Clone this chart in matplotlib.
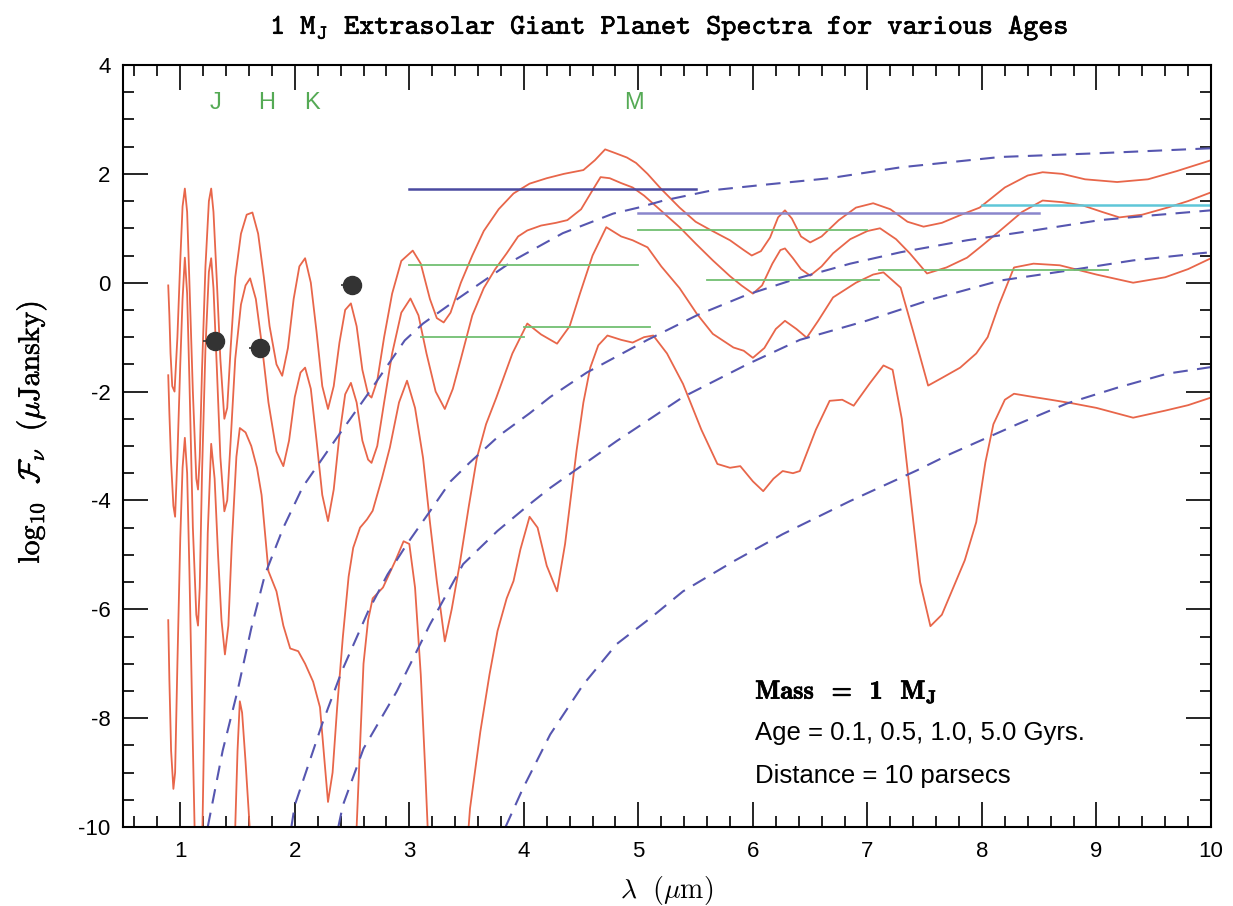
import os
import numpy as np
import matplotlib as mpl
mpl.use('Agg')
from matplotlib import pyplot as plt
from matplotlib import patheffects
from matplotlib.ticker import MultipleLocator
from matplotlib.font_manager import FontProperties

plt.rcParams['font.family'] = 'Liberation Sans'
plt.rcParams['mathtext.fontset'] = 'cm'
plt.rcParams['axes.unicode_minus'] = False

nan = np.nan

# spectra, 0.1 / 0.5 / 1.0 / 5.0 Gyr  (wavelength um, log10 flux)
age01_x = [0.895, 0.905, 0.915, 0.93, 0.95, 0.975, 1.0, 1.02, 1.04, 1.06, 1.08, 1.11, 1.14, 1.155, 1.17, 1.19,
           1.22, 1.25, 1.27, 1.29, 1.32, 1.35, 1.385, 1.41, 1.44, 1.48, 1.53, 1.58, 1.63, 1.68, 1.73, 1.78,
           1.84, 1.89, 1.94, 1.99, 2.04, 2.09, 2.14, 2.19, 2.24, 2.29, 2.34, 2.39, 2.44, 2.49, 2.54, 2.59,
           2.64, 2.67, 2.72, 2.78, 2.85, 2.93, 3.03, 3.10, 3.18, 3.24, 3.30, 3.36, 3.45, 3.55, 3.65, 3.78,
           3.91, 4.05, 4.2, 4.35, 4.52, 4.62, 4.71, 4.8, 4.9, 4.98, 5.08, 5.2, 5.36, 5.5, 5.62, 5.80,
           5.92, 5.99, 6.07, 6.15, 6.22, 6.28, 6.34, 6.42, 6.5, 6.6, 6.75, 6.9, 7.05, 7.2, 7.35, 7.49,
           7.65, 7.82, 7.98, 8.2, 8.4, 8.53, 8.7, 8.9, 9.18, 9.45, 9.7, 10.0]
age01_y = [-0.05, -0.6, -1.3, -1.9, -2.0, -1.0, 0.4, 1.4, 1.73, 1.3, 0.0, -2.0, -3.6, -3.8, -3.2, -1.6,
           0.3, 1.5, 1.73, 1.3, 0.0, -1.4, -2.5, -2.3, -1.2, 0.1, 0.9, 1.25, 1.29, 0.9, 0.1, -0.8,
           -1.5, -1.71, -1.2, -0.3, 0.3, 0.45, 0.0, -0.9, -1.9, -2.32, -1.9, -1.1, -0.5, -0.38, -0.8, -1.6,
           -2.05, -2.11, -1.8, -1.0, -0.2, 0.4, 0.59, 0.35, -0.3, -0.65, -0.73, -0.55, 0.0, 0.5, 0.95, 1.35,
           1.64, 1.82, 1.92, 2.0, 2.07, 2.25, 2.45, 2.38, 2.3, 2.2, 2.0, 1.72, 1.38, 1.12, 0.98, 0.78,
           0.6, 0.50, 0.58, 0.83, 1.2, 1.33, 1.18, 0.85, 0.74, 0.85, 1.15, 1.38, 1.46, 1.35, 1.12, 1.03,
           1.1, 1.25, 1.38, 1.75, 1.97, 2.03, 2.0, 1.9, 1.85, 1.9, 2.05, 2.25]

age05_x = [0.895, 0.905, 0.92, 0.94, 0.955, 0.975, 1.0, 1.02, 1.04, 1.06, 1.08, 1.11, 1.14, 1.155, 1.17, 1.19,
           1.22, 1.25, 1.27, 1.29, 1.32, 1.35, 1.385, 1.41, 1.44, 1.48, 1.53, 1.57, 1.61, 1.66, 1.71, 1.77,
           1.84, 1.90, 1.95, 2.00, 2.05, 2.09, 2.14, 2.19, 2.24, 2.29, 2.34, 2.39, 2.44, 2.49, 2.54, 2.59,
           2.64, 2.67, 2.72, 2.78, 2.85, 2.93, 3.01, 3.08, 3.15, 3.23, 3.31, 3.38, 3.45, 3.55, 3.65, 3.75,
           3.85, 3.95, 4.03, 4.15, 4.28, 4.38, 4.5, 4.6, 4.67, 4.75, 4.85, 4.95, 5.05, 5.2, 5.36, 5.5,
           5.65, 5.8, 5.9, 6.0, 6.08, 6.17, 6.24, 6.28, 6.35, 6.42, 6.5, 6.6, 6.7, 6.85, 7.0, 7.11,
           7.25, 7.37, 7.52, 7.69, 7.87, 8.0, 8.16, 8.35, 8.53, 8.7, 8.88, 9.05, 9.2, 9.4, 9.62, 9.8, 10.0]
age05_y = [-1.7, -2.4, -3.3, -4.1, -4.3, -3.2, -1.5, -0.3, 0.46, -0.2, -1.8, -4.5, -6.1, -6.3, -5.6, -3.5,
           -1.2, 0.2, 0.45, -0.1, -1.6, -3.2, -4.2, -4.0, -2.9, -1.4, -0.4, -0.05, 0.08, -0.3, -1.1, -2.2,
           -3.1, -3.37, -2.9, -2.1, -1.65, -1.56, -1.95, -2.9, -3.9, -4.38, -3.8, -2.8, -2.05, -1.84, -2.2, -2.9,
           -3.25, -3.31, -3.0, -2.2, -1.3, -0.55, -0.29, -0.6, -1.3, -2.0, -2.32, -1.95, -1.4, -0.6, -0.1, 0.25,
           0.54, 0.85, 0.96, 1.05, 1.1, 1.15, 1.35, 1.7, 1.94, 1.92, 1.83, 1.75, 1.6, 1.32, 1.02, 0.72,
           0.41, 0.12, -0.05, -0.20, -0.05, 0.35, 0.6, 0.63, 0.45, 0.25, 0.13, 0.3, 0.54, 0.8, 0.95, 1.0,
           0.8, 0.54, 0.17, 0.28, 0.46, 0.68, 0.96, 1.3, 1.51, 1.48, 1.42, 1.3, 1.2, 1.25, 1.38, 1.5, 1.66]

age10_x = [0.895, 0.905, 0.92, 0.94, 0.955, 0.975, 1.0, 1.02, 1.04, 1.06, 1.08, 1.11, 1.13, 1.19, 1.21, 1.24,
           1.27, 1.30, 1.33, 1.36, 1.39, 1.42, 1.45, 1.49, 1.52, 1.57, 1.62, 1.67, 1.71, 1.74, 1.77, 1.84,
           1.90, 1.96, 2.03, 2.09, 2.16, 2.22, 2.26, 2.29, 2.33, 2.37, 2.42, 2.47, 2.51, 2.57, 2.63, 2.68,
           2.76, 2.83, 2.91, 2.98, 3.05, 3.12, 3.18, 3.24, 3.31, 3.37, 3.44, 3.52, 3.59, 3.67, 3.76, 3.9,
           4.03, 4.15, 4.29, 4.4, 4.49, 4.6, 4.72, 4.85, 4.95, 5.08, 5.2, 5.36, 5.51, 5.65, 5.83, 5.92,
           6.0, 6.1, 6.2, 6.28, 6.38, 6.47, 6.57, 6.7, 6.9, 7.05, 7.14, 7.29, 7.4, 7.53, 7.65, 7.81,
           7.95, 8.05, 8.15, 8.28, 8.45, 8.68, 9.0, 9.32, 9.6, 9.8, 10.0]
age10_y = [-6.2, -7.3, -8.6, -9.3, -9.0, -7.0, -4.7, -3.4, -2.85, -3.5, -5.3, -8.5, -10.5, -10.5, -8.0, -4.6,
           -2.96, -3.6, -5.0, -6.2, -6.83, -6.3, -4.8, -3.2, -2.67, -2.75, -3.0, -3.4, -3.9, -4.6, -5.3, -5.67,
           -6.3, -6.72, -6.77, -7.0, -7.33, -7.8, -8.8, -9.54, -9.0, -7.8, -6.5, -5.4, -4.87, -4.5, -4.35, -4.19,
           -3.6, -3.03, -2.2, -1.80, -2.3, -3.22, -4.4, -5.48, -6.59, -6.0, -5.17, -4.1, -3.22, -2.6, -2.11, -1.3,
           -0.75, -0.95, -1.12, -0.8, -0.20, 0.5, 1.02, 0.85, 0.78, 0.65, 0.3, -0.1, -0.57, -0.94, -1.19, -1.25,
           -1.38, -1.2, -0.85, -0.70, -0.85, -1.01, -0.7, -0.27, 0.0, 0.15, 0.19, -0.09, -0.9, -1.89, -1.75, -1.56,
           -1.3, -1.0, -0.4, 0.28, 0.35, 0.32, 0.15, 0.0, 0.1, 0.25, 0.45]

age50_x = [1.45, 1.48, 1.50, 1.52, 1.54, 1.57, 1.60, 1.62, nan,
           2.52, 2.54, 2.57, 2.60, 2.64, 2.68, 2.77, 2.88, 2.95, 3.0, 3.05, 3.10, 3.14, 3.17, nan,
           3.50, 3.53, 3.62, 3.70, 3.77, 3.85, 3.91, 3.97, 4.05, 4.12, 4.2, 4.29, 4.36, 4.46, 4.52, 4.58,
           4.65, 4.73, 4.85, 4.95, 5.05, 5.13, 5.25, 5.39, 5.55, 5.69, 5.8, 5.89, 6.0, 6.09, 6.18, 6.26,
           6.35, 6.41, 6.55, 6.67, 6.78, 6.88, 7.02, 7.14, 7.22, 7.30, 7.38, 7.46, 7.55, 7.65, 7.75, 7.85,
           7.95, 8.03, 8.1, 8.2, 8.28, 8.45, 8.6, 8.8, 9.0, 9.32, 9.6, 9.8, 10.0]
age50_y = [-10.5, -10.0, -8.6, -7.69, -7.9, -8.8, -9.8, -10.5, nan,
           -10.5, -10.0, -8.5, -7.0, -6.2, -5.8, -5.6, -5.1, -4.75, -4.8, -5.6, -7.2, -9.0, -10.5, nan,
           -10.5, -9.66, -8.25, -7.2, -6.4, -5.8, -5.48, -4.9, -4.3, -4.5, -5.2, -5.67, -4.8, -3.09, -2.2, -1.56,
           -1.15, -0.97, -1.05, -1.1, -1.0, -0.97, -1.3, -1.86, -2.7, -3.33, -3.4, -3.37, -3.65, -3.83, -3.6, -3.46,
           -3.5, -3.46, -2.7, -2.17, -2.15, -2.26, -1.85, -1.52, -1.6, -2.5, -4.0, -5.5, -6.31, -6.1, -5.6, -5.1,
           -4.4, -3.3, -2.6, -2.15, -2.04, -2.1, -2.15, -2.22, -2.3, -2.48, -2.35, -2.25, -2.11]

spectra = [(age01_x, age01_y), (age05_x, age05_y), (age10_x, age10_y), (age50_x, age50_y)]

# blackbody curves (dashed)
bb1_x = [1.24, 1.37, 1.5, 1.62, 1.74, 1.9, 2.07, 2.33, 2.64, 2.96, 3.12, 3.44, 3.91, 4.34, 4.78, 5.0,
         5.22, 5.65, 6.1, 6.67, 7.29, 8.16, 9.03, 10.0]
bb1_y = [-10.0, -8.6, -7.5, -6.35, -5.36, -4.5, -3.75, -2.96, -2.04, -1.06, -0.75, -0.27, 0.41, 0.91, 1.27, 1.38,
         1.51, 1.70, 1.8, 1.92, 2.12, 2.31, 2.38, 2.47]
bb2_x = [1.97, 2.0, 2.24, 2.41, 2.64, 2.81, 2.98, 3.18, 3.36, 3.53, 3.79, 4.05, 4.23, 4.55, 5.08, 5.51,
         5.95, 6.39, 6.85, 7.29, 7.87, 8.45, 9.03, 9.5, 10.0]
bb2_y = [-10.0, -9.6, -8.1, -7.14, -6.04, -5.36, -4.8, -4.2, -3.65, -3.3, -2.8, -2.4, -2.1, -1.65, -1.05, -0.6,
         -0.22, 0.08, 0.35, 0.56, 0.78, 0.96, 1.15, 1.24, 1.33]
bb3_x = [2.38, 2.42, 2.60, 2.89, 3.18, 3.47, 3.77, 4.05, 4.23, 4.81, 5.39, 5.95, 6.41, 6.99, 7.57, 8.16,
         8.74, 9.32, 9.9, 10.0]
bb3_y = [-10.0, -9.6, -8.56, -7.51, -6.28, -5.17, -4.56, -4.07, -3.77, -2.91, -2.1, -1.5, -1.05, -0.7, -0.3, 0.04,
         0.22, 0.41, 0.54, 0.56]
bb4_x = [3.84, 3.99, 4.23, 4.52, 4.81, 5.10, 5.39, 5.83, 6.26, 6.85, 7.43, 7.72, 8.31, 8.74, 9.18, 9.62, 10.0]
bb4_y = [-10.0, -9.3, -8.3, -7.38, -6.64, -6.17, -5.67, -5.12, -4.62, -4.01, -3.45, -3.15, -2.6, -2.22, -1.93,
         -1.67, -1.55]
blackbodies = [(bb1_x, bb1_y), (bb2_x, bb2_y), (bb3_x, bb3_y), (bb4_x, bb4_y)]

# instrument sensitivity levels: (x start, x end, level, colour)
sens_start = [3.0, 5.0, 8.0, 3.0, 5.0, 5.6, 7.1, 3.1, 4.0]
sens_end = [5.5, 8.5, 10.0, 5.0, 7.0, 7.1, 9.1, 4.0, 5.1]
sens_level = [1.73, 1.29, 1.42, 0.32, 0.97, 0.05, 0.24, -0.99, -0.82]
sens_color = ['#4a4aa0', '#8a86cc', '#5ec6d8', '#72bf72', '#72bf72', '#72bf72', '#72bf72', '#72bf72', '#72bf72']
sens_width = [1.8, 1.8, 1.8, 1.3, 1.3, 1.3, 1.3, 1.3, 1.3]

# photometric points
dot_x = [1.30, 1.70, 2.50]
dot_y = [-1.07, -1.20, -0.05]

band_names = ['J', 'H', 'K', 'M']
band_x = [1.31, 1.75, 2.15, 4.96]

red = '#e8664a'
blue = '#5656b0'
green = '#55aa55'

ttf_dir = os.path.join(mpl.get_data_path(), 'fonts', 'ttf')

fig = plt.figure(figsize=(12.33, 9.06), dpi=100)
ax = fig.add_axes([123 / 1233, 1 - 827 / 906, 1088 / 1233, 762 / 906])

for sx, sy in spectra:
    ax.plot(sx, sy, color=red, lw=1.3, solid_joinstyle='round')

for bx, by in blackbodies:
    ax.plot(bx, by, color=blue, lw=1.5, linestyle=(0, (7, 4.5)))

for x0, x1, lev, c, w in zip(sens_start, sens_end, sens_level, sens_color, sens_width):
    ax.plot([x0, x1], [lev, lev], color=c, lw=w)

ax.errorbar(dot_x, dot_y, xerr=[[0.1] * 3, [0] * 3], fmt='o', color='#333333', ms=13,
            elinewidth=1.2, capsize=0)

for name, bx in zip(band_names, band_x):
    ax.text(bx, 3.3, name, color=green, fontsize=17, ha='center', va='center')

bf = FontProperties(fname=os.path.join(ttf_dir, 'cmb10.ttf'), size=19)
ax.text(6.02, -7.52, r'Mass  =  1  M$_{\mathbf{J}}$', fontproperties=bf, ha='left', va='center',
        path_effects=[patheffects.withStroke(linewidth=0.5, foreground='black')])
ax.text(6.02, -8.28, 'Age = 0.1, 0.5, 1.0, 5.0 Gyrs.', fontsize=18.5, ha='left', va='center')
ax.text(6.02, -9.07, 'Distance = 10 parsecs', fontsize=18.5, ha='left', va='center')

ax.set_xlim(0.5, 10)
ax.set_ylim(-10, 4)
ax.xaxis.set_major_locator(MultipleLocator(1))
ax.xaxis.set_minor_locator(MultipleLocator(0.2))
ax.yaxis.set_major_locator(MultipleLocator(2))
ax.yaxis.set_minor_locator(MultipleLocator(0.5))
ax.tick_params(which='both', direction='in', top=True, right=True, width=1.2, labelsize=16)
ax.tick_params(which='major', length=18)
ax.tick_params(which='minor', length=8)
ax.tick_params(axis='x', pad=10)
ax.tick_params(axis='y', pad=9)
for sp in ax.spines.values():
    sp.set_linewidth(1.5)

ax.set_xlabel(r'$\lambda\ \ (\mu\mathrm{m})$', fontsize=20)
ax.xaxis.set_label_coords(0.5, -0.062)
ax.set_ylabel(r'$\mathrm{log_{10}}\ \ \mathcal{F}_{\nu}\ \ (\mu\mathrm{Jansky})$', fontsize=21.5,
              path_effects=[patheffects.withStroke(linewidth=0.4, foreground='black')])
ax.yaxis.set_label_coords(-0.068, 0.518)

tt = FontProperties(fname=os.path.join(ttf_dir, 'cmtt10.ttf'), size=20.7)
fig.text(669 / 1233, 1 - 28 / 906, r'1 M$_{\mathtt{J}}$ Extrasolar Giant Planet Spectra for various Ages',
         fontproperties=tt, ha='center', va='center',
         path_effects=[patheffects.withStroke(linewidth=0.4, foreground='black')])

fig.savefig('out.png', dpi=100)
